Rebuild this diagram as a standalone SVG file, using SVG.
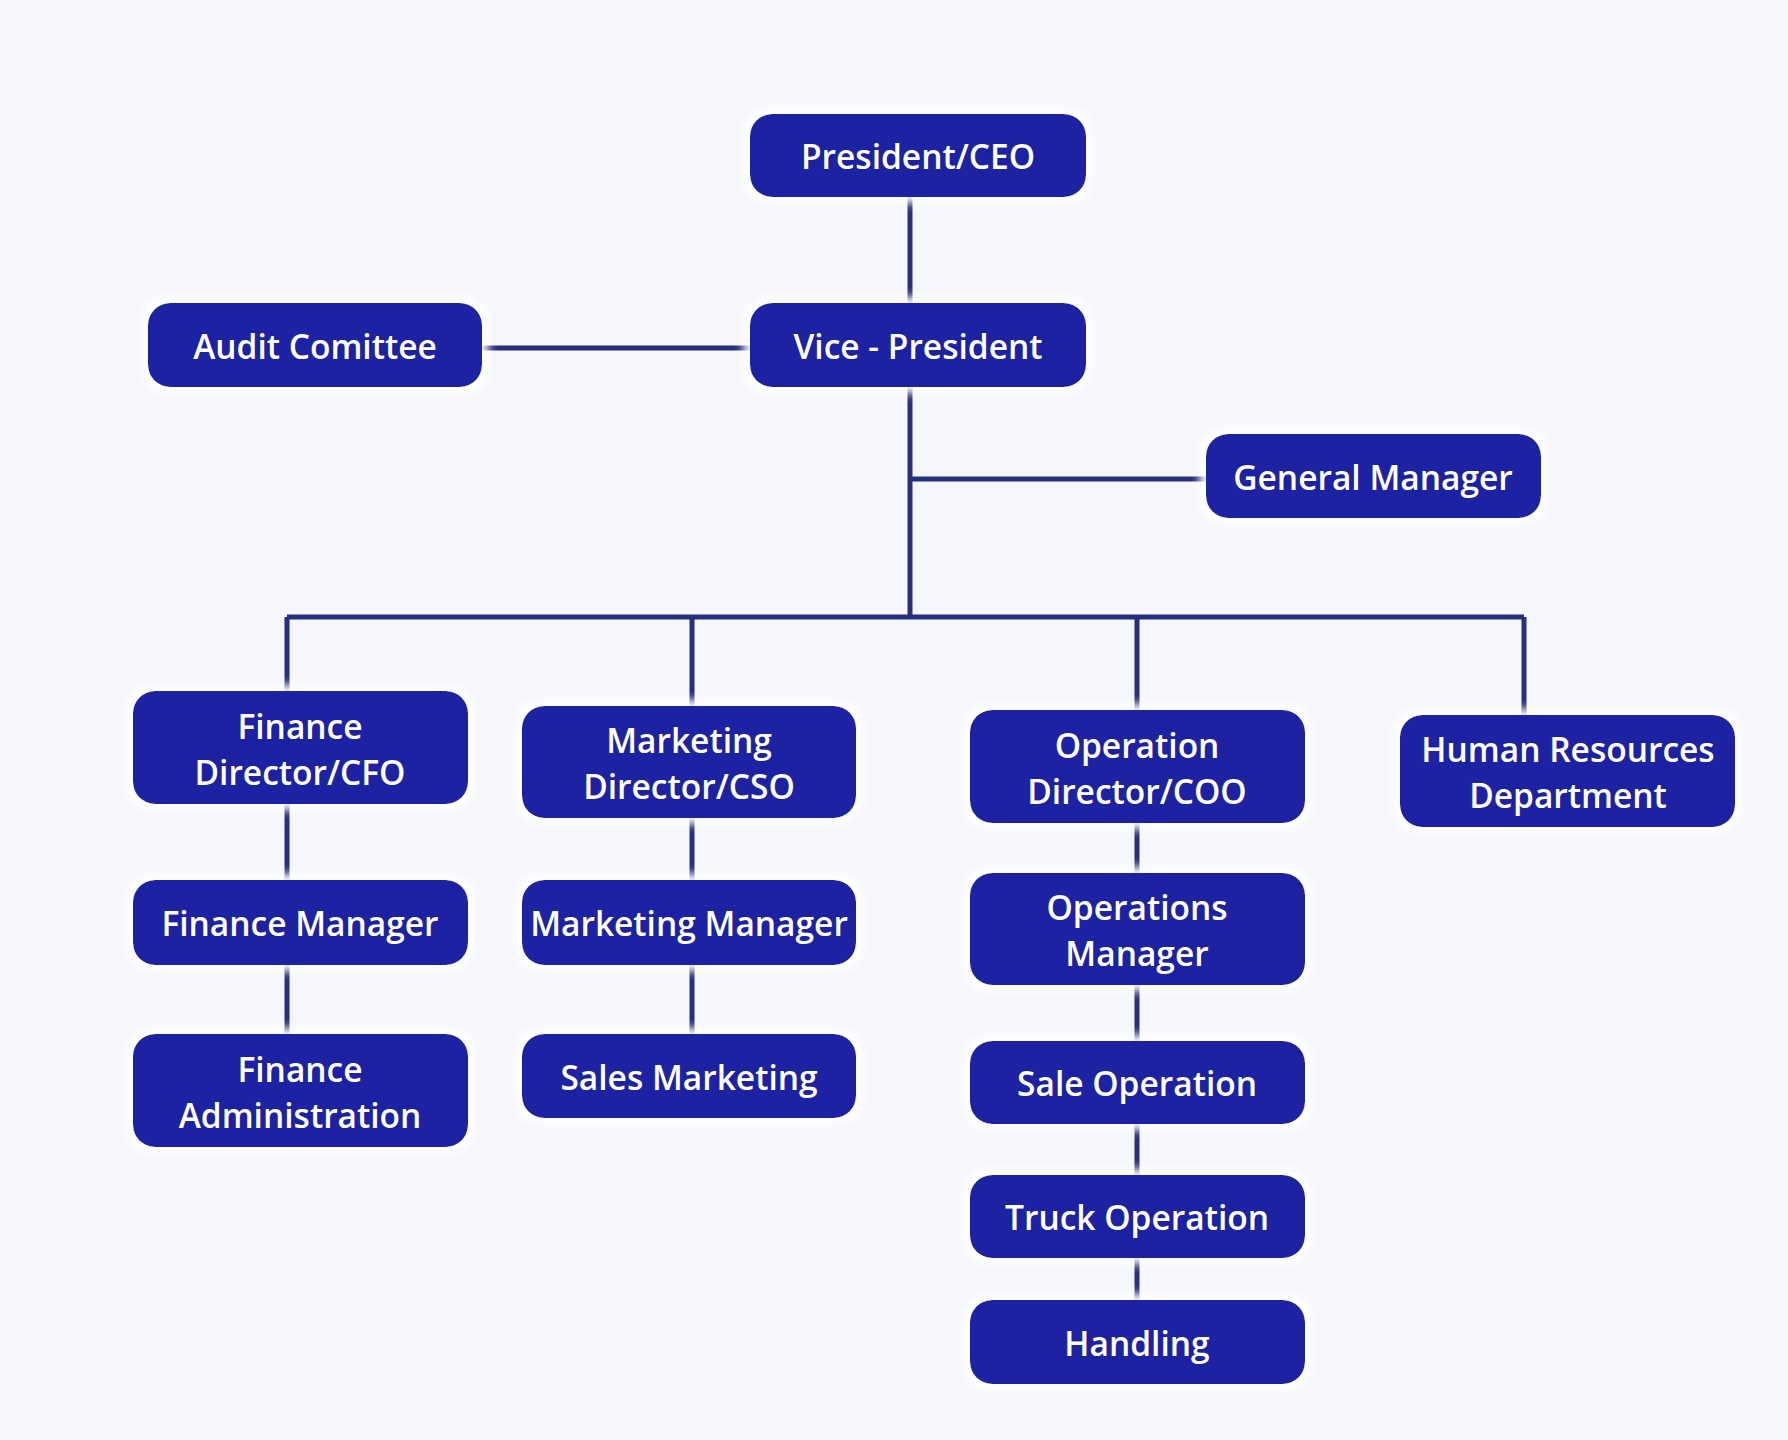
<svg xmlns="http://www.w3.org/2000/svg" width="1788" height="1440" viewBox="0 0 1788 1440">
<defs>
<filter id="glow" x="-10%" y="-20%" width="120%" height="140%">
<feMorphology in="SourceAlpha" operator="dilate" radius="6" result="d"/>
<feGaussianBlur in="d" stdDeviation="5" result="b"/>
<feFlood flood-color="#ffffff"/>
<feComposite in2="b" operator="in" result="g"/>
<feMerge><feMergeNode in="g"/><feMergeNode in="SourceGraphic"/></feMerge>
</filter>
<style>
.box{fill:#1a24a2;filter:url(#glow)}
.t{font-family:"Open Sans","Noto Sans","Liberation Sans",sans-serif;font-weight:600;font-size:33.5px;fill:#ffffff;text-anchor:middle}
.c{stroke:#252f7e;stroke-width:5;fill:none}
</style>
</defs>
<rect width="1788" height="1440" fill="#f5f7fc"/>
<g id="connectors">
<path class="c" d="M910 197V617"/>
<path class="c" d="M482 348H750"/>
<path class="c" d="M910 479H1206"/>
<path class="c" d="M287 617H1524"/>
<path class="c" d="M287 617V691M287 804V880M287 965V1034"/>
<path class="c" d="M692 617V706M692 818V880M692 965V1034"/>
<path class="c" d="M1137 617V710M1137 823V873M1137 985V1041M1137 1124V1175M1137 1258V1300"/>
<path class="c" d="M1524 617V715"/>
</g>
<g id="ceo"><rect class="box" x="750" y="114" width="336" height="83" rx="22"/><text class="t" x="918" y="169">President/CEO</text></g>
<g id="vp"><rect class="box" x="750" y="303" width="336" height="84" rx="22"/><text class="t" x="918" y="359">Vice - President</text></g>
<g id="audit"><rect class="box" x="148" y="303" width="334" height="84" rx="22"/><text class="t" x="315" y="359">Audit Comittee</text></g>
<g id="gm"><rect class="box" x="1206" y="434" width="335" height="84" rx="22"/><text class="t" x="1373" y="490">General Manager</text></g>
<g id="cfo"><rect class="box" x="133" y="691" width="335" height="113" rx="22"/><text class="t" x="300" y="739">Finance</text><text class="t" x="300" y="785">Director/CFO</text></g>
<g id="cso"><rect class="box" x="522" y="706" width="334" height="112" rx="22"/><text class="t" x="689" y="753">Marketing</text><text class="t" x="689" y="799">Director/CSO</text></g>
<g id="coo"><rect class="box" x="970" y="710" width="335" height="113" rx="22"/><text class="t" x="1137" y="758">Operation</text><text class="t" x="1137" y="804">Director/COO</text></g>
<g id="hr"><rect class="box" x="1400" y="715" width="335" height="112" rx="22"/><text class="t" x="1568" y="762">Human Resources</text><text class="t" x="1568" y="808">Department</text></g>
<g id="fm"><rect class="box" x="133" y="880" width="335" height="85" rx="22"/><text class="t" x="300" y="936">Finance Manager</text></g>
<g id="mm"><rect class="box" x="522" y="880" width="334" height="85" rx="22"/><text class="t" x="689" y="936">Marketing Manager</text></g>
<g id="om"><rect class="box" x="970" y="873" width="335" height="112" rx="22"/><text class="t" x="1137" y="920">Operations</text><text class="t" x="1137" y="966">Manager</text></g>
<g id="fa"><rect class="box" x="133" y="1034" width="335" height="113" rx="22"/><text class="t" x="300" y="1082">Finance</text><text class="t" x="300" y="1128">Administration</text></g>
<g id="sm"><rect class="box" x="522" y="1034" width="334" height="84" rx="22"/><text class="t" x="689" y="1090">Sales Marketing</text></g>
<g id="so"><rect class="box" x="970" y="1041" width="335" height="83" rx="22"/><text class="t" x="1137" y="1096">Sale Operation</text></g>
<g id="to"><rect class="box" x="970" y="1175" width="335" height="83" rx="22"/><text class="t" x="1137" y="1230">Truck Operation</text></g>
<g id="ha"><rect class="box" x="970" y="1300" width="335" height="84" rx="22"/><text class="t" x="1137" y="1356">Handling</text></g>
</svg>
